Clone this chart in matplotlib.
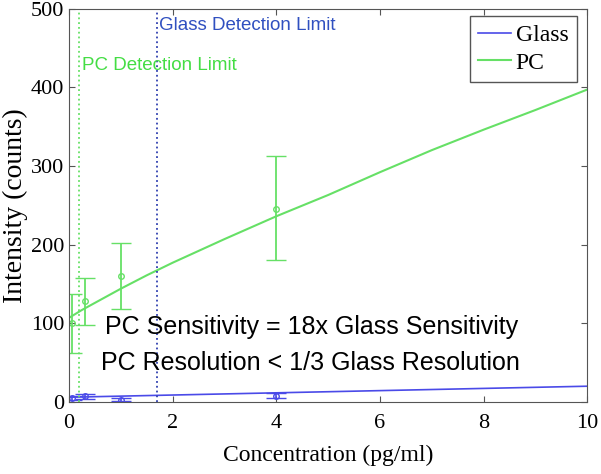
import matplotlib
matplotlib.use("Agg")
import matplotlib.pyplot as plt

# measured points (mean and error bar ends)
pc_x = [0.05, 0.3, 1.0, 4.0]
pc_y = [100, 128, 160, 245]
pc_lo = [62, 98, 118, 180]
pc_hi = [137, 158, 202, 312]

glass_x = [0.05, 0.3, 1.0, 4.0]
glass_y = [5, 7, 3, 8]
glass_err = [3, 3, 2, 3]

# fitted curves
fit_x = [0, 0.25, 0.5, 1, 1.5, 2, 3, 4, 5, 6, 7, 8, 9, 10]
pc_fit = [107, 117, 126, 144, 161, 177, 207, 236, 263, 292, 320, 346, 371, 397]
glass_fit = [6, 6.3, 6.7, 7.4, 8.1, 8.8, 10.2, 11.6, 13, 14.4, 15.8, 17.2, 18.6, 20]

pc_limit = 0.2
glass_limit = 1.7

green = "#66e066"
blue = "#4a4ae8"

plt.rcParams["font.family"] = "Liberation Serif"
fig, ax = plt.subplots(figsize=(6.01, 4.74), dpi=100)
fig.subplots_adjust(left=0.115, right=0.977, top=0.982, bottom=0.152)

ax.plot(fit_x, glass_fit, color=blue, lw=1.2, label="Glass")
ax.plot(fit_x, pc_fit, color=green, lw=1.5, label="PC")

pc_err = [[m - l for m, l in zip(pc_y, pc_lo)], [h - m for m, h in zip(pc_y, pc_hi)]]
ax.errorbar(pc_x, pc_y, yerr=pc_err, fmt="o", ms=4, mfc="none", color=green,
            capsize=7, lw=1.3)
ax.errorbar(glass_x, glass_y, yerr=glass_err, fmt="o", ms=4, mfc="none", color=blue,
            capsize=7, lw=1.2)

ax.axvline(pc_limit, color=green, ls=":", lw=1.3)
ax.axvline(glass_limit, color="#3040b0", ls=":", lw=1.3)

ax.text(glass_limit + 0.04, 478, "Glass Detection Limit", color="#3050c0",
        family="Liberation Sans", fontsize=13.5, va="center")
ax.text(pc_limit + 0.05, 427, "PC Detection Limit", color="#44dd44",
        family="Liberation Sans", fontsize=13.5, va="center")
ax.text(0.7, 95, "PC Sensitivity = 18x Glass Sensitivity", color="black",
        family="Liberation Sans", fontsize=18, va="center")
ax.text(0.62, 49, "PC Resolution < 1/3 Glass Resolution", color="black",
        family="Liberation Sans", fontsize=18, va="center")

ax.set_xlim(0, 10)
ax.set_ylim(0, 500)
ax.set_xticks([0, 2, 4, 6, 8, 10])
ax.set_yticks([0, 100, 200, 300, 400, 500])
ax.tick_params(direction="in", top=True, right=True, labelsize=16, length=4,
               color="#555555")
ax.tick_params(axis="x", pad=9)
for s in ax.spines.values():
    s.set_color("#555555")
ax.set_xlabel("Concentration (pg/ml)", fontsize=17, labelpad=8)
ax.set_ylabel("Intensity (counts)", fontsize=20, labelpad=2)

leg = ax.legend(loc="upper right", fontsize=17, handlelength=1.4, handletextpad=0.2,
                borderpad=0.35, labelspacing=0.25, fancybox=False, framealpha=1,
                borderaxespad=0, bbox_to_anchor=(0.98, 0.98))
leg.get_frame().set_edgecolor("#555555")

fig.savefig("out.png")
